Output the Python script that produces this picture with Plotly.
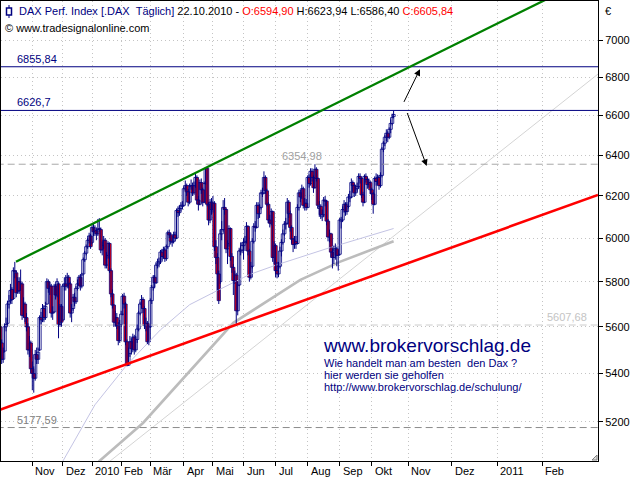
import numpy as np
import pandas as pd
import plotly.graph_objects as go

# ---------------- data ----------------
opens = [5600,5530,5460,5495,5600,5615,5700,5715,5765,5725,5850,5840,5755,5800,5765,5790,5650,5700,5640,5600,
         5500,5530,5420,5400,5380,5480,5460,5500,5640,5630,5680,5640,5700,5800,5770,5780,5660,5665,5780,5740,
         5790,5610,5690,5630,5780,5790,5780,5820,5790,5660,5680,5730,5710,5770,5790,5820,5780,5835,5900,5930,
         5960,5990,6010,5980,6050,6030,6035,6020,6045,6040,5945,5965,5990,5875,5920,5975,5850,5745,5695,5620,
         5640,5605,5540,5610,5655,5735,5700,5535,5435,5485,5535,5505,5555,5500,5545,5590,5660,5700,5720,5680,
         5605,5615,5535,5600,5715,5775,5820,5795,5875,5885,5890,5935,5915,5945,5905,5960,6025,6015,5980,5985,
         6015,6000,6130,6120,6140,6150,6155,6235,6250,6220,6170,6245,6250,6215,6250,6290,6180,6160,6265,6230,
         6170,6260,6335,6160,6085,6170,6135,6165,5960,5910,5835,5800,6020,6040,6145,6135,5950,5975,6045,5915,
         5865,5805,5830,5670,5785,5940,5945,5965,5980,5985,6055,5940,5820,5870,5985,6055,6050,6155,6115,6145,
         6210,6215,6290,6225,6160,6085,6070,6125,5910,5965,5850,5835,5870,5940,5980,6020,6065,6070,6170,6115,
         6050,5995,5970,5985,5975,6145,6215,6195,6235,6155,6165,6145,6290,6260,6320,6290,6240,6330,6285,6140,
         6150,6100,6110,6180,6175,6080,6005,6020,5935,5910,5940,5950,5920,5925,6080,6085,6135,6160,6125,6150,
         6190,6195,6265,6250,6215,6235,6245,6295,6285,6205,6170,6295,6280,6255,6265,6230,6210,6160,6285,6270,
         6290,6250,6300,6430,6460,6490,6510,6490,6530,6560,6594.90]
highs = [5620,5545,5510,5615,5640,5715,5740,5790,5775,5865,5890,5850,5820,5820,5855,5800,5730,5710,5660,5615,
         5560,5540,5450,5430,5500,5510,5510,5650,5665,5700,5695,5710,5815,5810,5800,5790,5690,5790,5790,5815,
         5795,5700,5700,5790,5820,5830,5840,5830,5800,5700,5745,5750,5780,5810,5830,5835,5840,5910,5940,5970,
         6000,6025,6020,6060,6070,6060,6050,6090,6094,6050,5985,6010,6000,5935,5985,5980,5860,5765,5700,5670,
         5660,5620,5630,5670,5745,5750,5710,5545,5510,5560,5550,5570,5565,5560,5610,5670,5710,5740,5730,5690,
         5640,5625,5610,5725,5785,5830,5830,5885,5905,5910,5945,5950,5960,5955,5970,6035,6040,6025,6010,6030,
         6030,6140,6150,6155,6170,6175,6245,6275,6260,6235,6260,6280,6265,6270,6310,6300,6200,6280,6285,6240,
         6270,6341,6340,6170,6185,6190,6200,6175,5990,5930,5850,6040,6080,6180,6190,6140,5990,6060,6050,5930,
         5880,5850,5840,5800,5955,5980,5980,6000,6010,6075,6060,5950,5890,6000,6070,6080,6170,6170,6160,6230,
         6240,6320,6300,6235,6170,6110,6140,6130,5985,5975,5890,5890,5960,5995,6040,6080,6095,6190,6180,6130,
         6060,6000,6010,6010,6160,6230,6230,6255,6245,6190,6185,6300,6305,6335,6335,6300,6355,6340,6290,6175,
         6160,6135,6195,6200,6180,6090,6040,6025,5950,5965,5975,5960,5945,6095,6100,6150,6180,6170,6170,6210,
         6225,6285,6275,6260,6255,6265,6310,6310,6290,6220,6305,6310,6290,6285,6275,6240,6220,6295,6310,6305,
         6300,6315,6440,6470,6500,6530,6520,6540,6580,6610,6623.94]
lows = [5510,5440,5445,5490,5580,5605,5680,5705,5700,5720,5815,5730,5745,5745,5760,5630,5640,5620,5580,5480,
        5470,5400,5330,5320,5370,5440,5440,5495,5610,5620,5620,5630,5695,5750,5740,5640,5630,5660,5720,5730,
        5550,5600,5600,5625,5760,5760,5770,5770,5640,5620,5670,5690,5700,5760,5780,5760,5770,5830,5890,5920,
        5950,5975,5950,5970,6010,6010,5990,6010,6030,5930,5920,5950,5860,5860,5905,5840,5730,5680,5600,5600,
        5590,5520,5530,5600,5650,5680,5520,5430,5433,5470,5480,5490,5480,5490,5530,5580,5650,5680,5660,5590,
        5580,5525,5520,5595,5700,5760,5770,5790,5860,5865,5880,5895,5905,5890,5895,5950,6000,5970,5960,5975,
        5985,5995,6100,6105,6125,6135,6150,6225,6200,6150,6160,6230,6200,6205,6240,6160,6130,6155,6210,6150,
        6165,6255,6150,6060,6070,6110,6120,5940,5880,5760,5700,5790,5990,6030,6110,5930,5880,5960,5895,5840,
        5740,5790,5608,5650,5780,5920,5930,5900,5940,5975,5920,5800,5810,5860,5975,6030,6045,6090,6095,6135,
        6195,6210,6210,6150,6070,6050,6060,5890,5880,5820,5815,5820,5860,5915,5970,6010,6040,6065,6095,6030,
        5975,5935,5950,5950,5970,6130,6170,6185,6140,6130,6130,6140,6240,6250,6270,6215,6235,6270,6140,6100,
        6090,6080,6100,6150,6060,5985,5980,5910,5860,5880,5900,5870,5850,5920,6045,6075,6120,6105,6110,6140,
        6170,6190,6220,6195,6200,6220,6235,6260,6190,6150,6165,6265,6235,6240,6210,6180,6115,6155,6250,6255,
        6230,6240,6290,6415,6445,6470,6465,6480,6510,6550,6586.40]
closes = [5530,5460,5490,5600,5610,5700,5710,5760,5720,5850,5845,5750,5800,5760,5790,5650,5700,5640,5600,5500,
          5530,5420,5400,5380,5480,5460,5490,5640,5630,5680,5640,5690,5800,5770,5780,5660,5660,5780,5740,5800,
          5610,5690,5620,5780,5790,5780,5820,5790,5660,5680,5730,5710,5770,5790,5820,5780,5830,5900,5930,5960,
          5990,6010,5960,6050,6030,6035,6020,6040,6040,5945,5965,5990,5875,5920,5975,5850,5745,5695,5620,5640,
          5605,5540,5610,5655,5735,5700,5535,5435,5485,5535,5505,5555,5500,5545,5590,5660,5700,5720,5680,5605,
          5615,5535,5600,5715,5775,5820,5795,5875,5890,5890,5935,5915,5945,5905,5960,6025,6015,5985,5985,6015,
          6000,6130,6120,6140,6155,6155,6235,6250,6220,6170,6250,6250,6215,6250,6290,6180,6160,6265,6230,6170,
          6260,6335,6160,6085,6170,6135,6165,5960,5910,5835,5715,6020,6040,6145,6135,5950,5975,6045,5915,5865,
          5805,5830,5670,5785,5940,5945,5965,5980,5985,6055,5940,5820,5870,5985,6055,6050,6155,6115,6145,6215,
          6215,6290,6225,6160,6085,6070,6125,5910,5965,5850,5835,5870,5940,5980,6020,6065,6070,6170,6115,6050,
          5995,5970,5985,5975,6145,6215,6195,6235,6155,6165,6145,6290,6260,6320,6290,6240,6330,6285,6155,6150,
          6110,6110,6180,6175,6080,6005,6020,5935,5910,5950,5950,5920,5925,6085,6085,6135,6160,6125,6150,6195,
          6195,6265,6250,6215,6235,6245,6295,6285,6205,6170,6295,6280,6255,6265,6230,6210,6160,6285,6270,6290,
          6250,6300,6430,6460,6490,6510,6490,6530,6560,6590,6605.84]

first_day, last_day = "2009-10-01", "2010-10-22"
exchange_holidays = ["2009-12-24", "2009-12-25", "2009-12-31", "2010-01-01", "2010-04-02", "2010-04-05"]
future_months = ["2010-11-01", "2010-12-01", "2011-01-01", "2011-02-01"]
month_names = ["", "Jan", "Feb", "Mär", "Apr", "Mai", "Jun", "Jul", "Aug", "Sep", "Okt", "Nov", "Dez"]

# moving averages / trend lines (bar index, price)
ma_slow_idx = [35, 43, 65, 87, 110, 130, 146, 171, 190, 226, 270]
ma_slow_val = [4990, 5044, 5270, 5437, 5587, 5697, 5750, 5832, 5877, 5955, 6045]
ma_grey_idx = [60, 68, 98, 137, 160, 206, 233, 270]
ma_grey_val = [4960, 5044, 5196, 5458, 5617, 5808, 5890, 5985]
line_light_idx = [60, 410.3]
line_light_val = [4975, 6817]
green_idx = [10.8, 410.3]
green_val = [5891, 7370]
red_idx = [-0.2, 410.3]
red_val = [5250, 6205]

levels_solid = [6855.84, 6626.7]
levels_solid_txt = ["6855,84", "6626,7"]
levels_dash = [6354.98, 5607.68, 5177.59]
levels_dash_txt = ["6354,98", "5607,68", "5177,59"]

arrow_tail_idx = [276.6, 279.0]
arrow_tail_val = [6663, 6621]
arrow_head_idx = [288.1, 292.7]
arrow_head_val = [6843, 6346]

yticks = [5200, 5400, 5600, 5800, 6000, 6200, 6400, 6600, 6800, 7000]

# ---------------- build ----------------
dates = pd.bdate_range(first_day, last_day).difference(pd.to_datetime(exchange_holidays))
assert len(dates) == len(closes) == len(opens) == len(highs) == len(lows)
xb = np.arange(len(dates))
o = np.array(opens, float); h = np.array(highs, float)
l = np.array(lows, float); c = np.array(closes, float)

tick_pos, tick_txt = [], []
prev_m = dates[0].month
for i, d in enumerate(dates):
    if d.month != prev_m:
        tick_pos.append(i)
        tick_txt.append(str(d.year) if d.month == 1 else month_names[d.month])
    prev_m = d.month
for fm in pd.to_datetime(future_months):
    tick_pos.append(xb[-1] + (fm - dates[-1]).days)
    tick_txt.append(str(fm.year) if fm.month == 1 else month_names[fm.month])

W, H = 640, 480
ML, MR, MT, MB = 1, 42, 1, 19
PW, PH = W - ML - MR, H - MT - MB
def pxx(p):
    return (p - ML) / PW
def pxy(p):
    return 1 - (p - MT) / PH

FONT = "Liberation Sans, Arial, sans-serif"
NAVY = "#000080"

fig = go.Figure()

fig.add_trace(go.Scatter(x=line_light_idx, y=line_light_val, mode="lines",
                         line=dict(color="#d4d4d4", width=1), hoverinfo="skip"))
fig.add_trace(go.Scatter(x=ma_slow_idx, y=ma_slow_val, mode="lines",
                         line=dict(color="#c4c4e4", width=1), hoverinfo="skip"))
fig.add_trace(go.Scatter(x=ma_grey_idx, y=ma_grey_val, mode="lines",
                         line=dict(color="#bcbcbc", width=2.6), hoverinfo="skip"))

dash_col = ["#a8a8a8", "#cccccc", "#8c8c8c"]
for lv, col in zip(levels_dash, dash_col):
    fig.add_trace(go.Scatter(x=[-10, 420], y=[lv, lv], mode="lines",
                             line=dict(color=col, width=1, dash="7px,4px"), hoverinfo="skip"))

# candles: wicks, then rising (white) bodies, then falling (red) bodies on top
wx, wy = [], []
for i in xb:
    wx += [i, i, None]
    wy += [l[i], h[i], None]
fig.add_trace(go.Scatter(x=wx, y=wy, mode="lines", line=dict(color=NAVY, width=1),
                         hoverinfo="skip", connectgaps=False))
body_lo = np.minimum(o, c)
body_h = np.maximum(np.abs(c - o), 1.0)
up = c >= o
for mask, fill in [(up, "white"), (~up, "#ff0000")]:
    fig.add_trace(go.Bar(x=xb[mask], y=body_h[mask], base=body_lo[mask], width=2.2,
                         marker=dict(color=fill, line=dict(color=NAVY, width=0.8)),
                         hoverinfo="skip"))

for lv in levels_solid:
    fig.add_trace(go.Scatter(x=[-10, 420], y=[lv, lv], mode="lines",
                             line=dict(color=NAVY, width=1), hoverinfo="skip"))

fig.add_trace(go.Scatter(x=green_idx, y=green_val, mode="lines",
                         line=dict(color="#008000", width=2.3), hoverinfo="skip"))
fig.add_trace(go.Scatter(x=red_idx, y=red_val, mode="lines",
                         line=dict(color="#ff0000", width=2.6), hoverinfo="skip"))

ann = []
lab_pos = {"6855,84": 10, "6626,7": 10, "6354,98": 192, "5607,68": 374, "5177,59": 10}
lab_col = {"6855,84": NAVY, "6626,7": NAVY, "6354,98": "#a0a0a0", "5607,68": "#c4c4c4", "5177,59": "#808080"}
for lv, t in list(zip(levels_solid, levels_solid_txt)) + list(zip(levels_dash, levels_dash_txt)):
    ann.append(dict(x=lab_pos[t], y=np.log10(lv), xref="x", yref="y", text=t, showarrow=False,
                    xanchor="left", yanchor="bottom", yshift=0,
                    font=dict(family=FONT, size=11, color=lab_col[t])))
for tx, tv, hx, hv in zip(arrow_tail_idx, arrow_tail_val, arrow_head_idx, arrow_head_val):
    ann.append(dict(x=hx, y=np.log10(hv), xref="x", yref="y", ax=tx, ay=np.log10(tv),
                    axref="x", ayref="y", showarrow=True, arrowhead=2, arrowsize=1.3,
                    arrowwidth=1, arrowcolor="black", text=""))
for p, t in zip(tick_pos, tick_txt):
    ann.append(dict(x=p, y=0, xref="x", yref="paper", text=t, showarrow=False,
                    xanchor="left", yanchor="top", xshift=1, yshift=-2,
                    font=dict(family=FONT, size=11, color="black")))

def de(v):
    return f"{v:.2f}".replace(".", ",")
title = (f'<span style="color:{NAVY}">DAX Perf. Index [.DAX\u00a0\u00a0Täglich]</span> '
         f'{dates[-1].strftime("%d.%m.%Y")} - '
         f'<span style="color:#ff0000">O:{de(opens[-1])}</span> '
         f'H:{de(highs[-1])} L:{de(lows[-1])} '
         f'<span style="color:#ff0000">C:{de(closes[-1])}</span>')
ann.append(dict(x=pxx(17), y=pxy(3), xref="paper", yref="paper", text=title, showarrow=False,
                xanchor="left", yanchor="top", font=dict(family=FONT, size=11, color="black")))
ann.append(dict(x=pxx(3), y=pxy(20), xref="paper", yref="paper", text="© www.tradesignalonline.com",
                showarrow=False, xanchor="left", yanchor="top",
                font=dict(family=FONT, size=11, color="black")))
ann.append(dict(x=pxx(603), y=pxy(3), xref="paper", yref="paper", text="€", showarrow=False,
                xanchor="left", yanchor="top", font=dict(family=FONT, size=11, color="black")))
ann.append(dict(x=pxx(321), y=pxy(333), xref="paper", yref="paper", text="www.brokervorschlag.de",
                showarrow=False, xanchor="left", yanchor="top",
                font=dict(family=FONT, size=19, color=NAVY)))
for k, t in enumerate(["Wie handelt man am besten\u00a0\u00a0den Dax ?", "hier werden sie geholfen",
                       "http://www.brokervorschlag.de/schulung/"]):
    ann.append(dict(x=pxx(322), y=pxy(355 + 12 * k), xref="paper", yref="paper", text=t,
                    showarrow=False, xanchor="left", yanchor="top",
                    font=dict(family=FONT, size=11, color=NAVY)))

shapes = [
    dict(type="line", xref="paper", yref="paper", x0=pxx(9), x1=pxx(9), y0=pxy(5), y1=pxy(18),
         line=dict(color=NAVY, width=1)),
    dict(type="rect", xref="paper", yref="paper", x0=pxx(6.5), x1=pxx(11.5), y0=pxy(8), y1=pxy(15),
         line=dict(color=NAVY, width=1.5), fillcolor="white"),
    dict(type="path", xref="paper", yref="paper",
         path=f"M {pxx(592)} {pxy(460)} L {pxx(597)} {pxy(455)} L {pxx(597)} {pxy(460)} Z",
         line=dict(color="#808080", width=1), fillcolor="#e0e0e0"),
]

grid = dict(showgrid=True, gridcolor="#c4c4c4", griddash="1px,3px", gridwidth=1)
fig.update_layout(
    width=W, height=H, margin=dict(l=ML, r=MR, t=MT, b=MB),
    paper_bgcolor="white", plot_bgcolor="white", showlegend=False,
    hovermode=False, barmode="overlay",
    annotations=ann, shapes=shapes,
    xaxis=dict(range=[(1 - 0.246) / 1.457, 410.3], tickvals=tick_pos, ticktext=[""] * len(tick_pos),
               ticks="outside", ticklen=4, tickcolor="black", showline=True, linecolor="black",
               mirror=True, zeroline=False, **grid),
    yaxis=dict(type="log", range=[3.70282, 3.85828], side="right", tickvals=yticks,
               ticktext=[str(v) for v in yticks], ticks="outside", ticklen=4, tickcolor="black",
               showline=True, linecolor="black", mirror=True, zeroline=False,
               tickfont=dict(family=FONT, size=11, color="black"), **grid),
)

fig.write_html("out.html", config={"displayModeBar": False})
